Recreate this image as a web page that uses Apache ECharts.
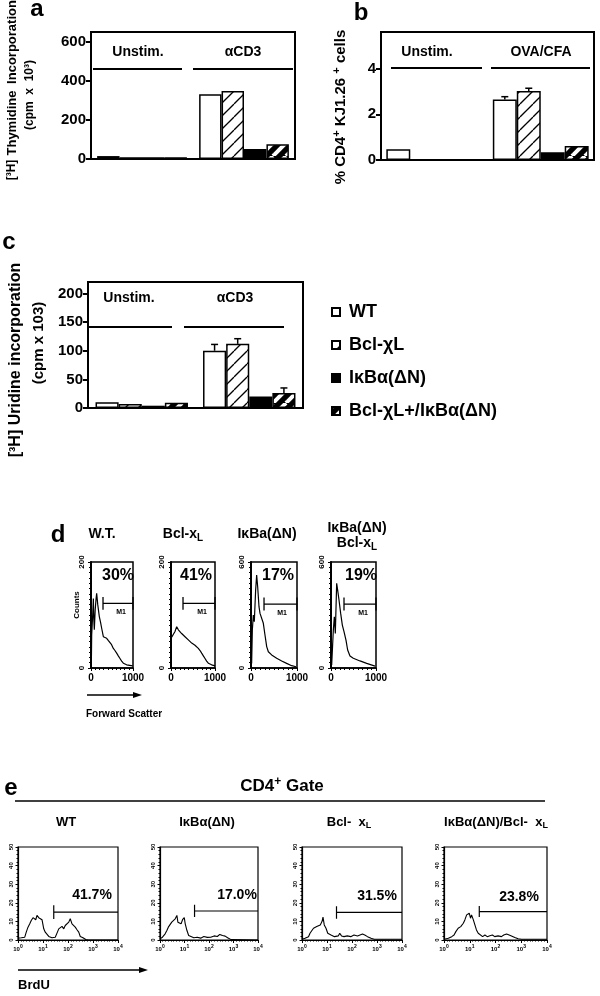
<!DOCTYPE html>
<html>
<head>
<meta charset="utf-8">
<script src="https://cdn.jsdelivr.net/npm/echarts@6/dist/echarts.min.js"></script>
<style>html,body{margin:0;background:#fff}#chart{width:600px;height:996px}</style>
</head>
<body>
<div id="chart"></div>
<script>
// genotypes, in bar order
const genotypes = ['WT', 'Bcl-χL', 'IκBα(ΔN)', 'Bcl-χL+/IκBα(ΔN)'];
const groupsA = ['Unstim.', 'αCD3'];
const groupsB = ['Unstim.', 'OVA/CFA'];
// a: [3H] thymidine (cpm x 10^3), per genotype [unstim, aCD3]
const thymidine = [[15, 331], [9, 348], [9, 51], [9, 75]];
// b: % CD4+ KJ1.26+ cells
const kjCells = [[0.47, 2.65], [0, 3.02], [0, 0.34], [0, 0.61]];
const kjErr = [[0, 0.12], [0, 0.12], [0, 0], [0, 0]];
// c: [3H] uridine (cpm x 10^3)
const uridine = [[10, 100], [7, 112], [4, 20], [9, 26]];
const uridineErr = [[0, 11], [0, 9], [0, 0], [0, 9]];

// d: forward scatter histograms [fsc, counts]
const fscWT = [[8,4],[16,62],[40,100],[56,131],[68,90],[79,72],[100,110],[120,130],[135,141],[160,120],[198,97],[230,85],[254,75],[294,59],[330,58],[373,56],[410,52],[452,50],[490,44],[532,37],[570,33],[611,28],[650,23],[690,18],[730,13],[770,9],[849,6],[920,5],[992,4]];
const fscBcl = [[15,58],[53,59],[91,69],[129,78],[167,72],[205,72],[242,65],[280,62],[318,59],[356,56],[394,53],[430,50],[470,47],[508,46],[545,43],[580,40],[621,37],[660,33],[697,28],[735,23],[773,18],[810,13],[848,9],[924,6],[1000,4]];
const fscIkb = [[14,26],[29,215],[51,300],[72,262],[101,441],[123,526],[145,460],[174,347],[196,309],[232,300],[268,253],[304,187],[341,121],[377,92],[449,74],[558,55],[667,40],[775,26],[884,13],[978,7]];
const fscBoth = [[15,17],[52,215],[74,290],[96,196],[126,479],[148,441],[178,385],[215,309],[252,243],[289,206],[333,158],[370,102],[422,68],[496,55],[644,40],[793,26],[978,11]];
const fscMax = [200, 200, 600, 600];
const fscPct = ['30%', '41%', '17%', '19%'];
// M1 gate: [start, level, half tick]
const gateD = [[286,122,12],[273,122,12],[283,362,37],[289,362,37]];

// e: BrdU histograms [log10 BrdU, counts]
const brdWT = [[0,1],[0.13,1.2],[0.27,1.5],[0.33,4.2],[0.4,6.9],[0.47,8.7],[0.53,10.5],[0.6,12],[0.67,12.7],[0.71,10.9],[0.76,13.2],[0.83,12],[0.89,12.7],[0.96,10.9],[1.03,6],[1.09,4.2],[1.16,3.7],[1.23,1.9],[1.29,1.5],[1.36,1.2],[1.43,1.9],[1.49,1.5],[1.56,3.7],[1.63,6],[1.69,6.9],[1.76,7.3],[1.83,6],[1.89,7.8],[1.96,8.7],[2.03,9.6],[2.09,11.4],[2.16,8.7],[2.23,7.8],[2.29,6.9],[2.36,5.5],[2.43,4.2],[2.49,1.9],[2.6,1.2],[2.71,0.3],[2.8,0],[4,0]];
const brdIkb = [[0,0.6],[0.1,1.5],[0.21,3.3],[0.28,5.1],[0.34,6.9],[0.41,7.8],[0.48,9.6],[0.55,10.5],[0.62,11.4],[0.69,13.2],[0.73,9.6],[0.79,10.5],[0.86,8.7],[0.92,10.9],[0.99,12],[1.03,8.7],[1.1,5.1],[1.17,2.4],[1.24,1.5],[1.38,1.2],[1.52,1.5],[1.66,1],[1.79,1.9],[1.93,1.4],[2.07,1.5],[2.21,2.2],[2.34,1.9],[2.44,3],[2.55,2.4],[2.66,2.1],[2.76,1.2],[2.9,0.2],[4,0]];
const brdBcl = [[0,0.4],[0.12,0.9],[0.26,1.8],[0.32,3.6],[0.39,4.5],[0.46,6.3],[0.53,5.4],[0.59,7.2],[0.66,6.3],[0.73,8.1],[0.8,9.9],[0.84,12.3],[0.89,8.1],[0.96,6.3],[1.03,3.6],[1.09,3.6],[1.16,2.7],[1.23,2.7],[1.3,1.8],[1.38,2.7],[1.45,2.2],[1.51,3.6],[1.58,2.2],[1.68,1.8],[1.81,2.2],[1.95,1.8],[2.08,2.7],[2.22,2.2],[2.32,2.7],[2.42,3.2],[2.51,2.7],[2.62,1.8],[2.76,0.9],[2.89,0.4],[4,0.4]];
const brdBoth = [[0,0.4],[0.17,0.9],[0.3,1.8],[0.39,2.7],[0.46,4.5],[0.55,6.3],[0.65,7.2],[0.75,9],[0.81,10.8],[0.88,13.5],[0.94,12.6],[0.98,14.4],[1.03,11.7],[1.07,13.5],[1.14,10.8],[1.2,8.1],[1.26,5.4],[1.33,3.6],[1.39,2.7],[1.5,1.8],[1.59,2.7],[1.68,1.8],[1.78,2.3],[1.88,2.7],[1.97,1.8],[2.1,2.2],[2.23,1.8],[2.32,2.7],[2.43,3.2],[2.53,2.7],[2.62,2.2],[2.75,1.4],[2.88,0.7],[3.01,0.4],[4,0.4]];
const brdPct = ['41.7%', '17.0%', '31.5%', '23.8%'];
const gateE = [[1.43,15,3.7],[1.41,15.6,3.3],[1.38,14.8,3.4],[1.37,15.3,3]];

const FONT = "'Liberation Sans', Arial, Helvetica, sans-serif";
const NARROW = "'Liberation Sans Narrow', 'Liberation Sans', Arial, sans-serif";

function hatch(bg, fg, lw) {
  const P = 13;
  const c = document.createElement('canvas');
  c.width = P; c.height = P;
  const g = c.getContext('2d');
  g.fillStyle = bg; g.fillRect(0, 0, P, P);
  g.strokeStyle = fg; g.lineWidth = lw;
  for (let k = -1; k <= 1; k++) {
    g.beginPath(); g.moveTo(k * P, P); g.lineTo(k * P + P, 0); g.stroke();
  }
  return { image: c, repeat: 'repeat' };
}
const fills = ['#fff', hatch('#fff', '#000', 1.3), '#000', hatch('#000', '#fff', 4)];

const grids = [
  { left: 91, top: 32, width: 204, height: 127, borderWidth: 2 },
  { left: 381, top: 32, width: 213, height: 128, borderWidth: 2 },
  { left: 88, top: 282, width: 215, height: 126, borderWidth: 2 },
  { left: 91, top: 562, width: 42, height: 106, borderWidth: 1.5 },
  { left: 171, top: 562, width: 44, height: 106, borderWidth: 1.5 },
  { left: 251, top: 562, width: 46, height: 106, borderWidth: 1.5 },
  { left: 331, top: 562, width: 45, height: 106, borderWidth: 1.5 },
  { left: 18, top: 847, width: 100, height: 93, borderWidth: 1.2 },
  { left: 160, top: 847, width: 98, height: 93, borderWidth: 1.2 },
  { left: 302, top: 847, width: 100, height: 93, borderWidth: 1.2 },
  { left: 444, top: 847, width: 103, height: 93, borderWidth: 1.2 }
];

const xAxis = [], yAxis = [], series = [];
const black = { color: '#000' };

// bar panels a, b, c
const barPanels = [
  { groups: groupsA, vals: thymidine, errs: null, max: 650, step: 200, gap: '12%' },
  { groups: groupsB, vals: kjCells, errs: kjErr, max: 5.6, step: 2, gap: '10%' },
  { groups: groupsA, vals: uridine, errs: uridineErr, max: 220, step: 50, gap: '14%' }
];
barPanels.forEach((p, gi) => {
  xAxis.push({ type: 'category', gridIndex: gi, data: p.groups,
    axisLine: { lineStyle: { color: '#000', width: 2 } }, axisTick: { show: false }, axisLabel: { show: false } });
  yAxis.push({ type: 'value', gridIndex: gi, min: 0, max: p.max, interval: p.step,
    axisLine: { show: true, lineStyle: { color: '#000', width: 2 } },
    axisTick: { show: true, length: 5, lineStyle: { color: '#000', width: 2 } },
    splitLine: { show: false },
    axisLabel: { showMaxLabel: false, fontSize: 15, fontWeight: 'bold', color: '#000', margin: 5,
      formatter: v => (Math.abs(v / p.step - Math.round(v / p.step)) < 1e-6 ? String(+v.toFixed(2)) : '') } });
  const gapFrac = parseFloat(p.gap) / 100;
  p.vals.forEach((v, k) => {
    series.push({ type: 'bar', name: genotypes[k], xAxisIndex: gi, yAxisIndex: gi, data: v,
      barGap: '0%', barCategoryGap: p.gap, silent: true,
      itemStyle: { color: fills[k], borderColor: '#000', borderWidth: 1.5 } });
    if (p.errs) {
      series.push({ type: 'custom', xAxisIndex: gi, yAxisIndex: gi, silent: true,
        data: v.map((val, i) => [i, val, p.errs[k][i]]), encode: { x: 0, y: 1 },
        renderItem: (params, api) => {
          const e = api.value(2);
          if (!e) return null;
          const base = api.coord([api.value(0), api.value(1)]);
          const top = api.coord([api.value(0), api.value(1) + e]);
          const barW = api.size([1, 0])[0] * (1 - gapFrac) / 4;
          const x = base[0] + (k - 1.5) * barW;
          const st = { stroke: '#000', lineWidth: 1.5 };
          return { type: 'group', children: [
            { type: 'line', shape: { x1: x, y1: base[1], x2: x, y2: top[1] }, style: st },
            { type: 'line', shape: { x1: x - 3.5, y1: top[1], x2: x + 3.5, y2: top[1] }, style: st }
          ] };
        } });
    }
  });
});

// d: forward scatter
[fscWT, fscBcl, fscIkb, fscBoth].forEach((d, i) => {
  const gi = 3 + i;
  xAxis.push({ type: 'value', gridIndex: gi, min: 0, max: 1000, interval: 1000,
    axisLine: { lineStyle: { color: '#000', width: 1.5 } },
    axisTick: { length: 3, lineStyle: black }, minorTick: { show: true, splitNumber: 10, length: 2, lineStyle: black },
    splitLine: { show: false },
    axisLabel: { fontSize: 10, fontWeight: 'bold', color: '#000', margin: 5, formatter: v => String(v) } });
  yAxis.push({ type: 'value', gridIndex: gi, min: 0, max: fscMax[i], interval: fscMax[i],
    axisLine: { show: true, lineStyle: { color: '#000', width: 2 } },
    axisTick: { show: true, length: 3, lineStyle: black }, minorTick: { show: true, splitNumber: 20, length: 2, lineStyle: black },
    splitLine: { show: false },
    axisLabel: { rotate: 90, fontSize: 8, fontWeight: 'bold', color: '#000', margin: 5, formatter: v => String(v) } });
  series.push({ type: 'line', xAxisIndex: gi, yAxisIndex: gi, data: d, symbol: 'none', silent: true,
    lineStyle: { color: '#000', width: 1.2 } });
  const [g0, gy, gh] = gateD[i];
  series.push({ type: 'line', xAxisIndex: gi, yAxisIndex: gi, symbol: 'none', silent: true,
    data: [[g0, gy - gh], [g0, gy + gh], [g0, gy], [1000, gy], [1000, gy + gh], [1000, gy - gh]],
    lineStyle: { color: '#000', width: 1.3 } });
});

// e: BrdU
[brdWT, brdIkb, brdBcl, brdBoth].forEach((d, i) => {
  const gi = 7 + i;
  xAxis.push({ type: 'value', gridIndex: gi, min: 0, max: 4, interval: 1,
    axisLine: { lineStyle: { color: '#000', width: 1.2 } },
    axisTick: { length: 3, lineStyle: black }, minorTick: { show: true, splitNumber: 9, length: 1.5, lineStyle: black },
    splitLine: { show: false },
    axisLabel: { fontSize: 6, fontWeight: 'bold', color: '#000', margin: 4, formatter: v => '10{s|' + v + '}',
      rich: { s: { fontSize: 5, fontWeight: 'bold', fontFamily: FONT, color: '#000', padding: [0, 0, 5, 0] } } } });
  yAxis.push({ type: 'value', gridIndex: gi, min: 0, max: 50, interval: 10,
    axisLine: { show: true, lineStyle: { color: '#000', width: 1.2 } },
    axisTick: { show: true, length: 2.5, lineStyle: black }, minorTick: { show: true, splitNumber: 5, length: 1.5, lineStyle: black },
    splitLine: { show: false },
    axisLabel: { rotate: 90, fontSize: 6, fontWeight: 'bold', color: '#000', margin: 4 } });
  series.push({ type: 'line', xAxisIndex: gi, yAxisIndex: gi, data: d, symbol: 'none', silent: true,
    lineStyle: { color: '#000', width: 1.1 } });
  const [g0, gy, gh] = gateE[i];
  series.push({ type: 'line', xAxisIndex: gi, yAxisIndex: gi, symbol: 'none', silent: true,
    data: [[g0, gy - gh], [g0, gy + gh], [g0, gy], [4, gy]],
    lineStyle: { color: '#000', width: 1.2 } });
});

function rich(size, family) {
  const base = { fontWeight: 'bold', fontFamily: family || FONT, fill: '#000', color: '#000' };
  return {
    sup: Object.assign({ fontSize: Math.round(size * 0.7), padding: [0, 0, Math.round(size * 0.5), 0] }, base),
    sub: Object.assign({ fontSize: Math.round(size * 0.7), padding: [Math.round(size * 0.55), 0, 0, 0] }, base)
  };
}
function T(x, y, text, size, o) {
  o = o || {};
  const fam = o.family || FONT;
  return { type: 'text', x, y, rotation: o.rot ? Math.PI / 2 : 0, silent: true, z: 100,
    style: { text, fill: '#000', fontSize: size, fontWeight: 'bold', fontFamily: fam,
      textAlign: o.align || 'center', textVerticalAlign: 'middle', align: o.align || 'center', verticalAlign: 'middle',
      rich: rich(size, fam) } };
}
function L(x1, x2, y, w) {
  return { type: 'line', silent: true, z: 100, shape: { x1, y1: y, x2, y2: y }, style: { stroke: '#000', lineWidth: w || 2 } };
}
function arrow(x1, x2, y) {
  return [L(x1, x2 - 6, y, 1.5),
    { type: 'polygon', silent: true, z: 100, shape: { points: [[x2, y], [x2 - 9, y - 3], [x2 - 9, y + 3]] }, style: { fill: '#000' } }];
}

const graphics = [
  T(37, 9, 'a', 24), T(361, 13, 'b', 24), T(9, 242, 'c', 24), T(58, 535, 'd', 24), T(11, 788, 'e', 24),
  // a
  T(138, 52, 'Unstim.', 14), T(243, 52, 'αCD3', 14), L(93, 182, 69), L(193, 293, 69),
  T(12, 170, '[³H]', 12, { rot: true, family: NARROW }), T(12, 123, 'Thymidine', 13, { rot: true, family: NARROW }),
  T(12, 42, 'Incorporation', 13, { rot: true, family: NARROW }), T(30, 95, '(cpm  x  10³)', 12, { rot: true }),
  // b
  T(427, 52, 'Unstim.', 14), T(541, 52, 'OVA/CFA', 14), L(391, 482, 68), L(491, 590, 68),
  T(341, 107, '% CD4{sup|+} KJ1.26 {sup|+} cells', 15, { rot: true }),
  // c
  T(129, 298, 'Unstim.', 14), T(235, 298, 'αCD3', 14), L(88, 172, 327), L(184, 284, 327),
  T(16, 360, '[³H] Uridine incorporation', 16, { rot: true }), T(39, 343, '(cpm x 103)', 15, { rot: true }),
  // d
  T(102, 534, 'W.T.', 14), T(183, 534, 'Bcl-x{sub|L}', 14), T(267, 534, 'IκBa(ΔN)', 14),
  T(357, 528, 'IκBa(ΔN)', 14), T(357, 543, 'Bcl-x{sub|L}', 14),
  T(118, 576, fscPct[0], 16), T(196, 576, fscPct[1], 16), T(278, 576, fscPct[2], 16), T(361, 576, fscPct[3], 16),
  T(121, 612, 'M1', 7), T(202, 612, 'M1', 7), T(282, 613, 'M1', 7), T(363, 613, 'M1', 7),
  T(77, 605, 'Counts', 8, { rot: true }),
  ...arrow(87, 142, 695), T(86, 714, 'Forward Scatter', 10, { align: 'left' }),
  // e
  T(282, 786, 'CD4{sup|+} Gate', 17), L(15, 545, 801, 1.5),
  T(66, 822, 'WT', 13), T(207, 822, 'IκBα(ΔN)', 13), T(349, 822, 'Bcl-  x{sub|L}', 13), T(496, 822, 'IκBα(ΔN)/Bcl-  x{sub|L}', 13),
  T(92, 895, brdPct[0], 14), T(237, 895, brdPct[1], 14), T(377, 896, brdPct[2], 14), T(519, 897, brdPct[3], 14),
  ...arrow(18, 148, 970), T(18, 985, 'BrdU', 13, { align: 'left' })
];

const chart = echarts.init(document.getElementById('chart'));
chart.setOption({
  backgroundColor: '#fff',
  animation: false,
  textStyle: { fontFamily: FONT },
  grid: grids.map(g => Object.assign({ show: true, borderColor: '#000', outerBoundsMode: 'none', containLabel: false }, g)),
  xAxis, yAxis, series,
  legend: { data: genotypes, orient: 'vertical', left: 326, top: 298, itemWidth: 8, itemHeight: 8, itemGap: 15,
    icon: 'rect', selectedMode: false,
    textStyle: { fontSize: 18, fontWeight: 'bold', color: '#000', fontFamily: FONT, padding: [0, 0, 0, 4] } },
  graphic: { elements: graphics }
});
</script>
</body>
</html>
